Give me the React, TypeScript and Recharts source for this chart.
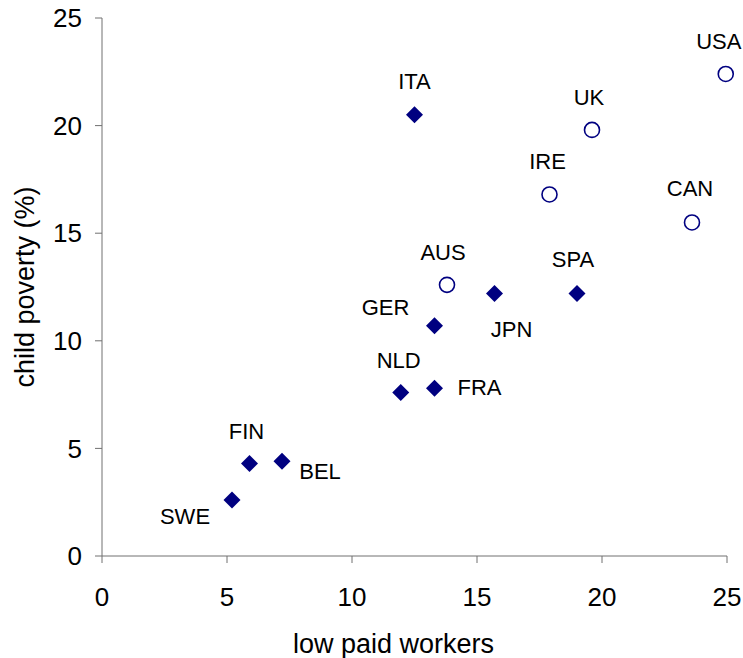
import { ScatterChart, Scatter, XAxis, YAxis } from 'recharts';

const countries = ['SWE', 'FIN', 'BEL', 'NLD', 'FRA', 'GER', 'JPN', 'ITA', 'SPA', 'AUS', 'IRE', 'UK', 'CAN', 'USA'];
const lowPaid = [5.2, 5.9, 7.2, 11.95, 13.3, 13.3, 15.7, 12.5, 19.0, 13.8, 17.9, 19.6, 23.6, 24.95];
const childPoverty = [2.6, 4.3, 4.4, 7.6, 7.8, 10.7, 12.2, 20.5, 12.2, 12.6, 16.8, 19.8, 15.5, 22.4];
const openMarkers = ['AUS', 'IRE', 'UK', 'CAN', 'USA'];
const axisTicks = [0, 5, 10, 15, 20, 25];

// where each country's label sits relative to its marker
const labelShift: Record<string, [number, number]> = {
  SWE: [-47, 16],
  FIN: [-3, -32],
  BEL: [38, 10],
  NLD: [-2, -32],
  FRA: [45, -1],
  GER: [-49, -18],
  JPN: [17, 36],
  ITA: [0, -33],
  SPA: [-4, -34],
  AUS: [-4, -32],
  IRE: [-2, -33],
  UK: [-3, -32],
  CAN: [-2, -34],
  USA: [-7, -32],
};

const rows = countries.map((c, i) => ({ name: c, x: lowPaid[i], y: childPoverty[i] }));
const filled = rows.filter((r) => !openMarkers.includes(r.name));
const open = rows.filter((r) => openMarkers.includes(r.name));

const NAVY = '#000080';
const FONT = '"Liberation Sans", Arial, sans-serif';

const CountryLabel = ({ cx, cy, name }: { cx: number; cy: number; name: string }) => {
  const [dx, dy] = labelShift[name] || [0, -32];
  return (
    <text x={cx + dx} y={cy + dy} textAnchor="middle" dominantBaseline="central" fontSize={22} fontFamily={FONT} fill="#000">
      {name}
    </text>
  );
};

const Diamond = (props: any) => {
  const { cx, cy, payload } = props;
  const r = 8.5;
  return (
    <g>
      <polygon points={`${cx},${cy - r} ${cx + r},${cy} ${cx},${cy + r} ${cx - r},${cy}`} fill={NAVY} />
      <CountryLabel cx={cx} cy={cy} name={payload.name} />
    </g>
  );
};

const Ring = (props: any) => {
  const { cx, cy, payload } = props;
  return (
    <g>
      <circle cx={cx} cy={cy} r={7.5} fill="#fff" stroke={NAVY} strokeWidth={1.6} />
      <CountryLabel cx={cx} cy={cy} name={payload.name} />
    </g>
  );
};

const tickStyle = { fontSize: 26, fontFamily: FONT, fill: '#000' };
const titleStyle = { fontSize: 27, fontFamily: FONT, fill: '#000' };

export default function App() {
  return (
    <div style={{ position: 'absolute', left: 0, top: 0, width: 743, height: 658, background: '#fff', overflow: 'hidden' }}>
      <ScatterChart width={743} height={658} margin={{ top: 18, right: 16, bottom: 0, left: 0 }}>
        <XAxis
          type="number"
          dataKey="x"
          domain={[0, 25]}
          ticks={axisTicks}
          height={102}
          tickSize={7}
          tickMargin={25}
          stroke="#707070"
          tick={tickStyle}
          label={{ value: 'low paid workers', position: 'insideBottom', offset: 5, dx: -21, style: titleStyle }}
        />
        <YAxis
          type="number"
          dataKey="y"
          domain={[0, 25]}
          ticks={axisTicks}
          width={102}
          tickSize={7}
          tickMargin={13}
          stroke="#707070"
          tick={tickStyle}
          label={{ value: 'child poverty (%)', angle: -90, position: 'insideLeft', offset: 24, style: { ...titleStyle, textAnchor: 'middle' } }}
        />
        <Scatter data={filled} shape={Diamond} isAnimationActive={false} />
        <Scatter data={open} shape={Ring} isAnimationActive={false} />
      </ScatterChart>
    </div>
  );
}
